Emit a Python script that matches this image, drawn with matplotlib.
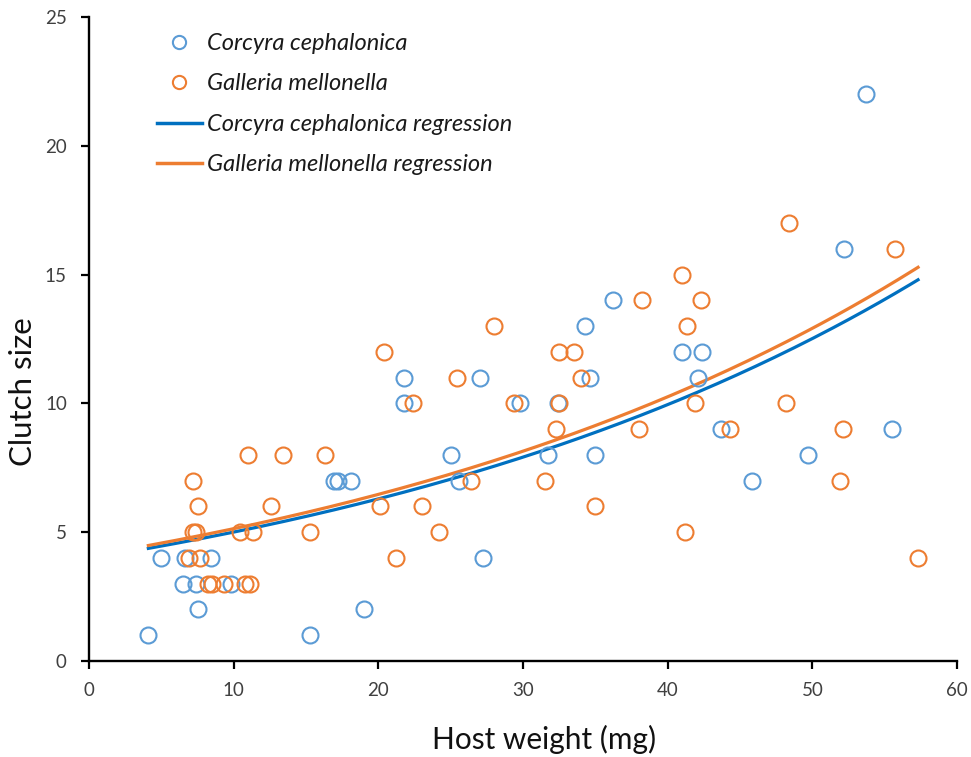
import matplotlib
matplotlib.use("Agg")
import matplotlib.pyplot as plt
from matplotlib.lines import Line2D
import numpy as np

# Corcyra cephalonica hosts (weight mg, clutch size)
corcyra_x = [4.1, 5.0, 6.5, 6.6, 7.4, 7.5, 8.4, 9.8, 15.3, 16.9, 17.2, 18.1, 19.0,
             21.8, 21.8, 25.0, 25.6, 27.0, 27.2, 29.8, 31.7, 32.4, 34.3, 34.6, 35.0,
             36.2, 41.0, 42.1, 42.4, 43.7, 45.8, 49.7, 52.2, 53.7, 55.5]
corcyra_y = [1, 4, 3, 4, 3, 2, 4, 3, 1, 7, 7, 7, 2,
             11, 10, 8, 7, 11, 4, 10, 8, 10, 13, 11, 8,
             14, 12, 11, 12, 9, 7, 8, 16, 22, 9]

# Galleria mellonella hosts
galleria_x = [6.9, 7.2, 7.2, 7.4, 7.5, 7.7, 8.2, 8.5, 9.3, 10.4, 10.8, 11.0, 11.1,
              11.3, 12.6, 13.4, 15.3, 16.3, 20.1, 20.4, 21.2, 22.4, 23.0, 24.2, 25.4,
              26.4, 28.0, 29.4, 31.5, 32.3, 32.5, 32.5, 33.5, 34.0, 35.0, 38.0, 38.2,
              41.0, 41.2, 41.3, 41.9, 42.3, 44.3, 48.2, 48.4, 51.9, 52.1, 55.7, 57.3]
galleria_y = [4, 7, 5, 5, 6, 4, 3, 3, 3, 5, 3, 8, 3,
              5, 6, 8, 5, 8, 6, 12, 4, 10, 6, 5, 11,
              7, 13, 10, 7, 9, 12, 10, 12, 11, 6, 9, 14,
              15, 5, 13, 10, 14, 9, 10, 17, 7, 9, 16, 4]

# exponential regressions y = a * exp(b * x)
corcyra_a, corcyra_b = 3.98, 0.02292
galleria_a, galleria_b = 4.08, 0.02305
fit_start, fit_end = 4.1, 57.3

blue_pt = "#5B9BD5"
orange_pt = "#ED7D31"
blue_ln = "#0070C0"
orange_ln = "#ED7D31"

plt.rcParams["font.family"] = ["Lato", "DejaVu Sans"]

fig = plt.figure(figsize=(9.71, 7.57), dpi=100)
ax = fig.add_axes([0.0917, 0.1268, 0.894, 0.8507])

xs = np.linspace(fit_start, fit_end, 200)
ax.plot(xs, corcyra_a * np.exp(corcyra_b * xs), color=blue_ln, lw=2.3, zorder=2)
ax.plot(xs, galleria_a * np.exp(galleria_b * xs), color=orange_ln, lw=2.3, zorder=2)

ax.plot(corcyra_x, corcyra_y, "o", ms=11.5, mfc="none", mec=blue_pt, mew=1.5, zorder=3)
ax.plot(galleria_x, galleria_y, "o", ms=11.5, mfc="none", mec=orange_pt, mew=1.5, zorder=3)

ax.set_xlim(0, 60)
ax.set_ylim(0, 25)
ax.set_xticks(range(0, 61, 10))
ax.set_yticks(range(0, 26, 5))
for s in ["top", "right"]:
    ax.spines[s].set_visible(False)
for s in ["left", "bottom"]:
    ax.spines[s].set_linewidth(1.7)
ax.tick_params(direction="out", length=6, width=1.6, labelsize=13.5,
               color="black", labelcolor="#404040")
ax.tick_params(axis="x", pad=9)
ax.tick_params(axis="y", pad=10)

ax.set_xlabel("Host weight (mg)", fontsize=21.5, va="baseline", color="#111111")
ax.xaxis.set_label_coords(0.5236, -0.1366)
ax.set_ylabel("Clutch size", fontsize=22.5, va="baseline", color="#111111")
ax.yaxis.set_label_coords(-0.0657, 0.4177)

handles = [
    Line2D([], [], ls="none", marker="o", ms=9.5, mfc="none", mec=blue_pt, mew=1.5),
    Line2D([], [], ls="none", marker="o", ms=9.5, mfc="none", mec=orange_pt, mew=1.5),
    Line2D([], [], color=blue_ln, lw=2.5),
    Line2D([], [], color=orange_ln, lw=2.5),
]
labels = ["Corcyra cephalonica", "Galleria mellonella",
          "Corcyra cephalonica regression", "Galleria mellonella regression"]
leg = ax.legend(handles, labels, loc="upper left", bbox_to_anchor=(0.0783, 0.975),
                frameon=False, prop={"style": "italic", "size": 17},
                labelspacing=0.82, handlelength=1.9, handletextpad=0.2,
                borderpad=0, borderaxespad=0)
for t in leg.get_texts():
    t.set_color("#1a1a1a")

fig.savefig("out.png", dpi=100)
